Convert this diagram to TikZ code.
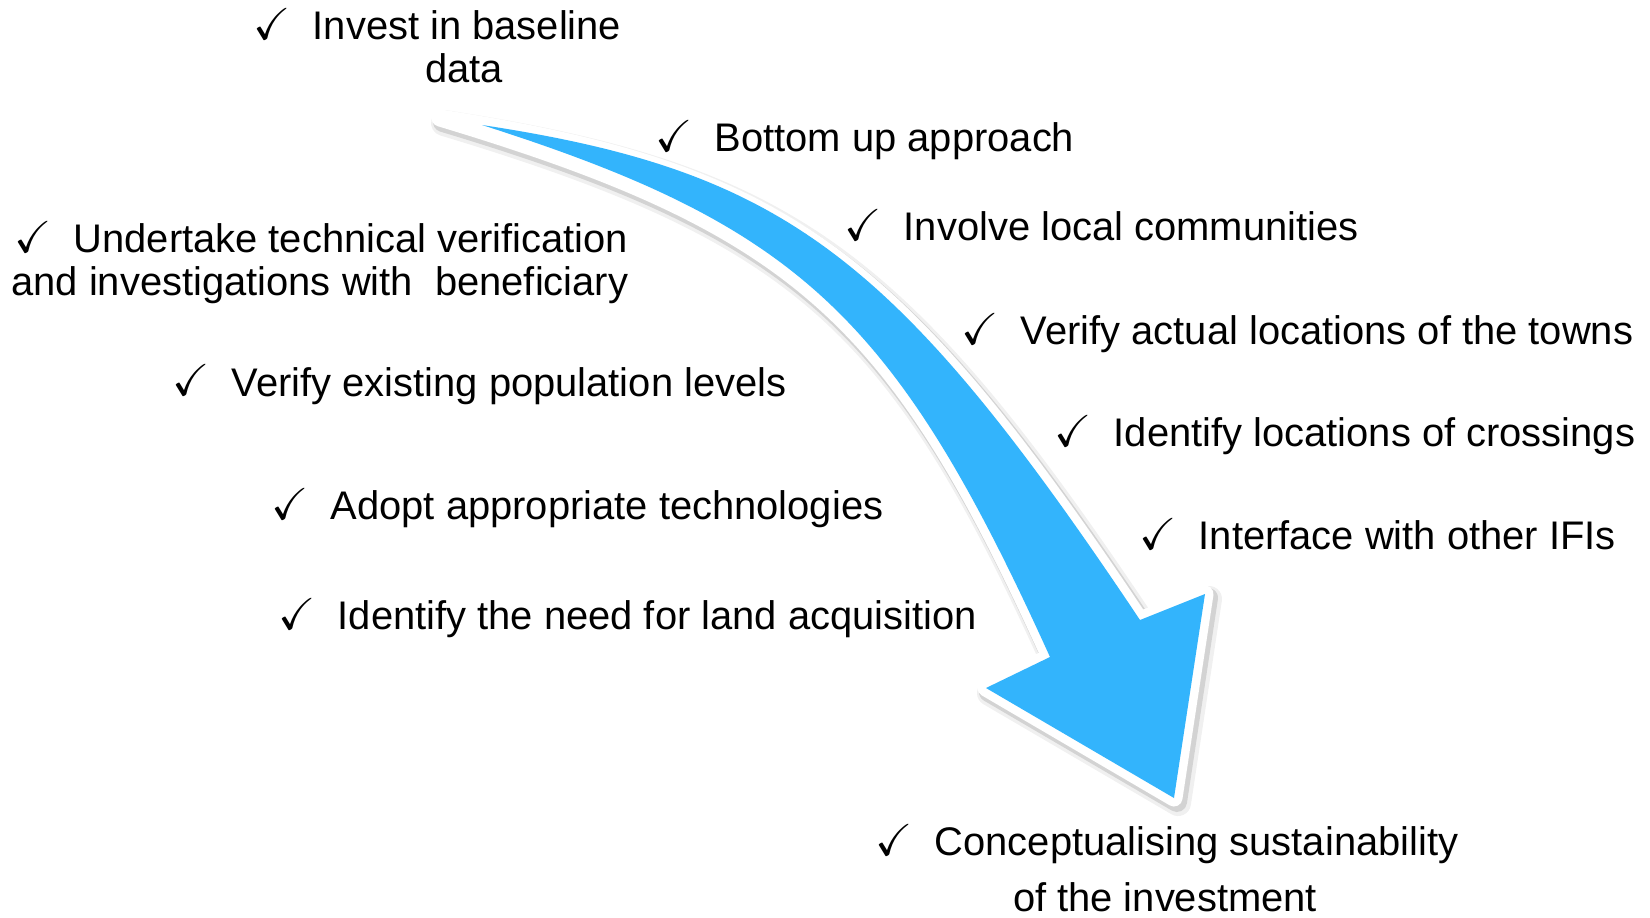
\documentclass[tikz,border=0pt]{standalone}
\usepackage{amsmath,amssymb}
\usepackage{graphicx}
\usepackage{fontspec}
\setmainfont{Liberation Sans}
\usetikzlibrary{positioning}
\definecolor{arrowblue}{RGB}{51,180,252}
\newcommand{\tick}{\makebox[1.48em][l]{\scalebox{1.12}{$\checkmark$}}}
% outline of the curved arrow, #1 = tail point
\newcommand{\arrowoutline}[1]{#1 .. controls (784,171) and (896,255) .. (1140,620)
    -- (1205,594) -- (1174,798) -- (986,688) -- (1050,657)
    .. controls (896,317) and (799,226) .. #1 -- cycle}
\tikzset{
    item/.style = {inner sep=0pt, font=\fontsize{11.35}{13}\selectfont},
    rim/.style = {draw=white, line width=0.17cm, line join=round},
    shade/.style = {draw=black, line join=round},
}

\begin{document}
\begin{tikzpicture}[x=0.01cm, y=-0.01cm]
\path[use as bounding box] (0,0) rectangle (1650,918);

% Curved arrow (shadow, white rim, blue body)
\draw[shade, opacity=0.06, line width=0.26cm, shift={(4,5)}] \arrowoutline{(440,118)};
\draw[shade, opacity=0.12, line width=0.2cm, shift={(3,4)}] \arrowoutline{(440,118)};
\draw[rim] \arrowoutline{(440,118)};
\fill[arrowblue] \arrowoutline{(482,125)};

% Items left of the arrow
\node[item, anchor=base west] (baseline) at (253,39) {\tick Invest in baseline};
\node[item, anchor=base] (baselinedata) at (464,83) {data};
\node[item, anchor=base east] (undertake) at (629,252) {\tick Undertake technical verification};
\node[item, anchor=base east] (undertakeb) at (629,295) {and investigations with\ \ beneficiary};
\node[item, anchor=base west] (population) at (172,396) {\tick Verify existing population levels};
\node[item, anchor=base west] (technology) at (271,519) {\tick Adopt appropriate technologies};
\node[item, anchor=base west] (land) at (278,629) {\tick Identify the need for land acquisition};

% Items right of the arrow
\node[item, anchor=base west] (bottomup) at (655,151) {\tick Bottom up approach};
\node[item, anchor=base west] (communities) at (844,241) {\tick Involve local communities};
\node[item, anchor=base west] (towns) at (961,344) {\tick Verify actual locations of the towns};
\node[item, anchor=base west] (crossings) at (1054,446) {\tick Identify locations of crossings};
\node[item, anchor=base west] (ifis) at (1139,549) {\tick Interface with other IFIs};

% Goal below the arrow head
\node[item, anchor=base west] (sustain) at (875,855) {\tick Conceptualising sustainability};
\node[item, anchor=base] (sustainb) at (1165,911) {of the investment};

\end{tikzpicture}
\end{document}
